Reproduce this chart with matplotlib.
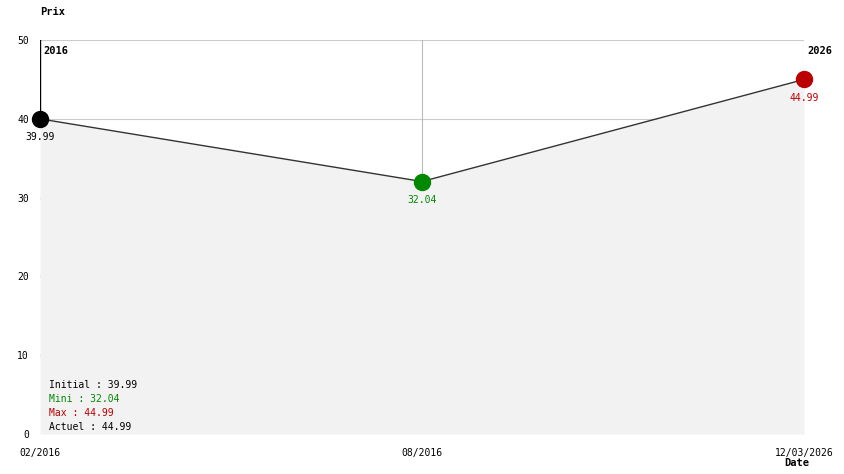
import matplotlib
matplotlib.use("Agg")
import matplotlib.pyplot as plt

dates = ["02/2016", "08/2016", "12/03/2026"]
prices = [39.99, 32.04, 44.99]
point_colors = ["#000000", "#008800", "#bb0000"]
label_texts = ["39.99", "32.04", "44.99"]
label_colors = ["#000000", "#008800", "#bb0000"]
y_ticks = [0, 10, 20, 30, 40, 50]
years = ["2016", "2026"]
summary_labels = ["Initial : 39.99", "Mini : 32.04", "Max : 44.99", "Actuel : 44.99"]
summary_colors = ["#000000", "#008800", "#bb0000", "#000000"]

W, H = 844, 474
fig = plt.figure(figsize=(W / 100, H / 100), dpi=100)
L, R, T, B = 40, 804, 40, 434
ax = fig.add_axes([L / W, 1 - B / H, (R - L) / W, (B - T) / H])
mono = "DejaVu Sans Mono"
fs = 7

x = list(range(len(dates)))
ax.set_xlim(0, len(dates) - 1)
ax.set_ylim(0, 50)
for s in ax.spines.values():
    s.set_visible(False)

# gridlines (under the fill)
for yt in y_ticks[1:]:
    ax.axhline(yt, color="#cccccc", lw=0.8, zorder=1)
for i in x[1:]:
    ax.axvline(i, ymin=prices[i] / 50, color="#bbbbbb", lw=0.8, zorder=1)
ax.axvline(0, ymin=prices[0] / 50, color="#000000", lw=1.0, zorder=1)

ax.fill_between(x, prices, 0, color="#f2f2f2", zorder=2, lw=0)
ax.plot(x, prices, color="#333333", lw=1.0, zorder=3)
for xi, p, c in zip(x, prices, point_colors):
    ax.plot(xi, p, "o", ms=11.5, color=c, zorder=4, mec=c, clip_on=False)
for xi, p, t, c in zip(x, prices, label_texts, label_colors):
    ax.annotate(t, (xi, p), xytext=(0, -9.5), textcoords="offset points",
                ha="center", va="top", fontsize=fs, family=mono, color=c, zorder=5)

ax.set_xticks(x)
ax.set_xticklabels(dates, family=mono, fontsize=fs)
ax.set_yticks(y_ticks)
ax.set_yticklabels([str(v) for v in y_ticks], family=mono, fontsize=fs)
ax.tick_params(axis="x", length=0, pad=10)
ax.tick_params(axis="y", length=0, pad=8)

# year labels
fig.text((L + 3) / W, 1 - 51 / H, years[0], ha="left", va="center",
         fontsize=fs + 0.5, family=mono, fontweight="bold")
fig.text((R + 3) / W, 1 - 51 / H, years[1], ha="left", va="center",
         fontsize=fs + 0.5, family=mono, fontweight="bold")

fig.text(40 / W, 1 - 12 / H, "Prix", ha="left", va="center",
         fontsize=fs + 0.5, family=mono, fontweight="bold")
fig.text(784 / W, 1 - 463 / H, "Date", ha="left", va="center",
         fontsize=fs + 0.5, family=mono, fontweight="bold")

for k, (t, c) in enumerate(zip(summary_labels, summary_colors)):
    fig.text(49 / W, 1 - (385 + 14 * k) / H, t, ha="left", va="center",
             fontsize=fs, family=mono, color=c)

fig.savefig("out.png", dpi=100)
